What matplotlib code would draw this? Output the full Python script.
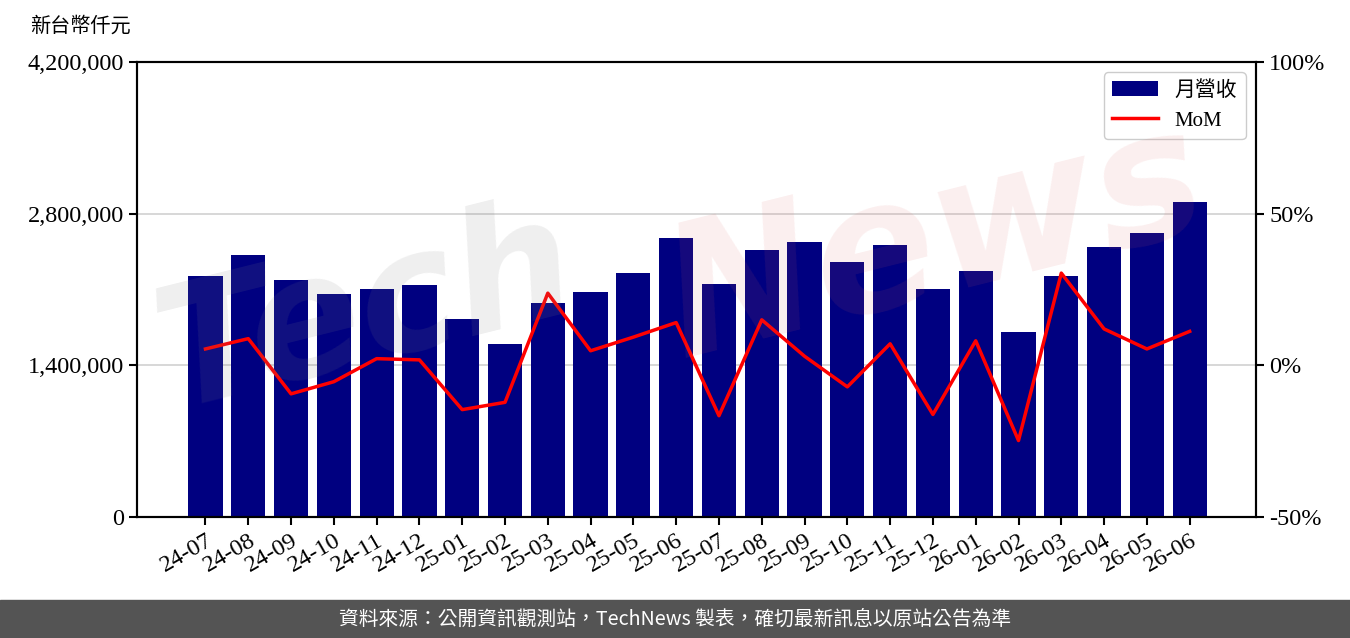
'''
Monthly revenue bar chart with MoM line
'''

import matplotlib
matplotlib.use('Agg')
from matplotlib import pyplot as plt
from matplotlib.ticker import FuncFormatter, FixedLocator

# chart data
months = ['24-07', '24-08', '24-09', '24-10', '24-11', '24-12',
          '25-01', '25-02', '25-03', '25-04', '25-05', '25-06',
          '25-07', '25-08', '25-09', '25-10', '25-11', '25-12',
          '26-01', '26-02', '26-03', '26-04', '26-05', '26-06']
revenue = [2225900, 2419300, 2189000, 2060100, 2106200, 2143000,
           1829800, 1599600, 1977200, 2078500, 2253500, 2575900,
           2152200, 2465400, 2539000, 2354800, 2511400, 2106200,
           2271900, 1710100, 2225900, 2493000, 2621900, 2907500]
mom = [5.4, 8.8, -9.4, -5.4, 2.2, 1.8,
       -14.6, -12.2, 23.8, 4.8, 9.3, 14.1,
       -16.6, 15.0, 3.0, -7.1, 7.1, -16.2,
       8.1, -24.8, 30.4, 12.0, 5.4, 11.2]
left_ticks = [0, 1400000, 2800000, 4200000]
right_ticks = [-50, 0, 50, 100]

unit_label = '新台幣仟元'
bar_label = '月營收'
line_label = 'MoM'
source_note = '資料來源：公開資訊觀測站，TechNews 製表，確切最新訊息以原站公告為準'

serif = ['Liberation Serif', 'Noto Sans CJK TC', 'DejaVu Sans']
sans = ['Noto Sans CJK TC', 'DejaVu Sans']
plt.rcParams['font.family'] = serif
plt.rcParams['font.size'] = 15

fig = plt.figure(figsize=(13.5, 6.38), dpi=100)
ax = fig.add_axes([137 / 1350, 1 - 517 / 638, (1256 - 137) / 1350, (517 - 62) / 638])
ax2 = ax.twinx()

x = list(range(len(months)))

# bars + grid
ax.set_axisbelow(True)
ax.grid(axis='y', color='#d4d4d4', linewidth=1.3)
bars = ax.bar(x, revenue, width=0.8, color='#000080', label=bar_label, zorder=2)
ax.set_ylim(0, 4200000)
ax.yaxis.set_major_locator(FixedLocator(left_ticks))
ax.yaxis.set_major_formatter(FuncFormatter(lambda v, p: f'{int(v):,}'))
ax.set_xlim(-1.6, 24.55)
ax.set_xticks(x)
ax.set_xticklabels(months, rotation=30, ha='right', rotation_mode='anchor')

# MoM line
line, = ax2.plot(x, mom, color='#ff0000', linewidth=2.5, label=line_label, zorder=3)
ax2.set_ylim(-50, 100)
ax2.yaxis.set_major_locator(FixedLocator(right_ticks))
ax2.yaxis.set_major_formatter(FuncFormatter(lambda v, p: f'{int(v)}%'))

for a in (ax, ax2):
    for s in a.spines.values():
        s.set_linewidth(1.5)
    a.tick_params(width=1.5, length=6, labelsize=17.5)

fig.text(30 / 1350, 1 - 27 / 638, unit_label, fontsize=14.5, va='center', ha='left')

leg = ax2.legend([bars, line], [bar_label, line_label], loc='upper right',
                 fontsize=15, framealpha=1, edgecolor='#cccccc', fancybox=True,
                 handlelength=2.2, borderaxespad=0.5)

# watermark
fig.text(0.105, 0.36, 'Tech', fontsize=120, color='#808080', alpha=0.13,
         rotation=14, family='DejaVu Sans', style='italic', weight='bold', zorder=10)
fig.text(0.48, 0.44, 'News', fontsize=130, color='#e06060', alpha=0.1,
         rotation=14, family='DejaVu Sans', style='italic', weight='bold', zorder=10)

# footer band
fig.patches.append(plt.Rectangle((0, 0), 1, 38 / 638, transform=fig.transFigure,
                                 color='#545454', zorder=0))
fig.text(0.5, 19 / 638, source_note, color='white', fontsize=14.2, family=sans,
         ha='center', va='center')

plt.savefig('out.png', dpi=100)
